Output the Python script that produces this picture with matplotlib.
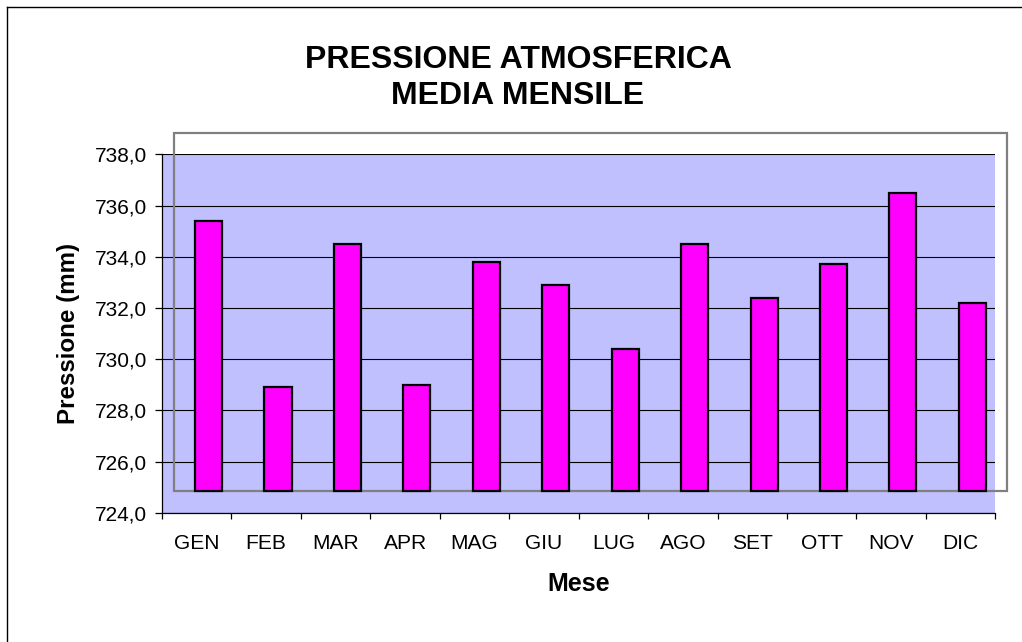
import matplotlib
matplotlib.use("Agg")
import matplotlib.pyplot as plt
import numpy as np
from matplotlib.lines import Line2D
from matplotlib.patches import Rectangle
from matplotlib.ticker import FixedLocator, FuncFormatter, NullFormatter

plt.rcParams["font.family"] = ["Liberation Sans", "DejaVu Sans"]

months = ["GEN", "FEB", "MAR", "APR", "MAG", "GIU", "LUG", "AGO", "SET", "OTT", "NOV", "DIC"]
pressure_mm = [735.4, 728.9, 734.5, 729.0, 733.8, 732.9, 730.4, 734.5, 732.4, 733.7, 736.5, 732.2]
y_ticks = [724, 726, 728, 730, 732, 734, 736, 738]
title_lines = ["PRESSIONE ATMOSFERICA", "MEDIA MENSILE"]

W, H = 1022, 642
fig = plt.figure(figsize=(W / 100, H / 100), dpi=100)
ax = fig.add_axes([162 / W, 1 - 512.7 / H, 833.3 / W, 358.4 / H])

ax.set_facecolor("#C0C0FF")
ax.set_xlim(-0.5, len(months) - 0.5)
ax.set_ylim(y_ticks[0], y_ticks[-1])

# the plotted series sits in a box shifted a bit right/up from the value axis
shift_x = 0.17
base = 724.86
x = np.arange(len(months)) + shift_x
ax.bar(x, np.array(pressure_mm) - base, bottom=base, width=0.39,
       color="#FF00FF", edgecolor="black", linewidth=1.6, zorder=3)
ax.add_patch(Rectangle((-0.5 + shift_x, base), len(months), 13.98, fill=False,
                       edgecolor="#808080", linewidth=1.6, clip_on=False, zorder=2))

ax.yaxis.set_major_locator(FixedLocator(y_ticks))
ax.yaxis.set_major_formatter(FuncFormatter(lambda v, p: f"{v:.1f}".replace(".", ",")))
ax.grid(axis="y", color="black", linewidth=0.8, zorder=1)
ax.set_axisbelow(True)

ax.xaxis.set_major_locator(FixedLocator(np.arange(len(months) + 1) - 0.5))
ax.xaxis.set_major_formatter(NullFormatter())
ax.set_xticks(np.arange(len(months)), labels=months, minor=True)
ax.tick_params(axis="x", which="minor", length=0, pad=15, labelsize=15.1)
ax.tick_params(axis="x", which="major", length=4.5, width=0.9, color="black")
ax.tick_params(axis="y", length=4.8, width=0.9, pad=6, labelsize=15)

for side in ["top", "right"]:
    ax.spines[side].set_visible(False)
for side in ["left", "bottom"]:
    ax.spines[side].set_color("black")
    ax.spines[side].set_linewidth(0.9)

for line, baseline in zip(title_lines, [68.3, 104.0]):
    fig.text(518 / W, 1 - baseline / H, line, ha="center", va="baseline",
             fontsize=23, fontweight="bold")
fig.text(578.5 / W, 1 - 590.7 / H, "Mese", ha="center", va="baseline",
         fontsize=18, fontweight="bold")
fig.text(68.5 / W, 1 - 333.6 / H, "Pressione (mm)", ha="center", va="center",
         rotation=90, fontsize=17.4, fontweight="bold")

# outer frame (only top and left edges are visible in the crop)
fig.add_artist(Line2D([7.3 / W, 1], [1 - 7.3 / H, 1 - 7.3 / H], color="black", linewidth=1.0))
fig.add_artist(Line2D([7.3 / W, 7.3 / W], [1 - 7.3 / H, 0], color="black", linewidth=1.0))

fig.savefig("out.png", dpi=100)
